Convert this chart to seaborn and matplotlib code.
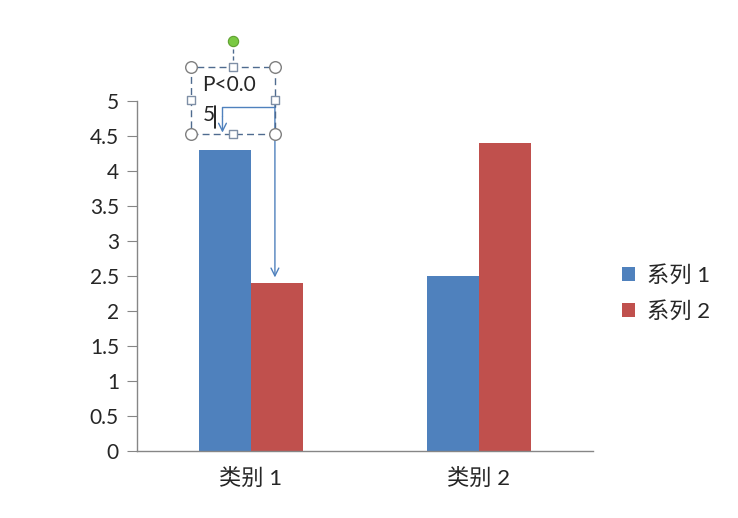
import matplotlib.pyplot as plt
import seaborn as sns
import pandas as pd
from matplotlib.patches import Rectangle

# Data
categories = ['类别 1', '类别 2']
series_names = ['系列 1', '系列 2']
series1 = [4.3, 2.5]
series2 = [2.4, 4.4]
yticks = [0, 0.5, 1, 1.5, 2, 2.5, 3, 3.5, 4, 4.5, 5]
ytick_labels = ['0', '0.5', '1', '1.5', '2', '2.5', '3', '3.5', '4', '4.5', '5']
annot_lines = ['P<0.0', '5']

df = pd.DataFrame({
    'cat': categories * 2,
    'series': [series_names[0]] * 2 + [series_names[1]] * 2,
    'value': series1 + series2,
})

sns.set_style('white')
fonts = ['Lato', 'Noto Sans CJK SC', 'DejaVu Sans']
plt.rcParams['font.family'] = fonts

fig = plt.figure(figsize=(7.38, 5.18), dpi=100)
ax = fig.add_axes([0.1856, 0.1293, 0.6179, 0.6757])

sns.barplot(data=df, x='cat', y='value', hue='series', ax=ax,
            palette=['#4F81BD', '#C0504D'], width=0.46, saturation=1,
            edgecolor='none', linewidth=0, legend=True)

ax.set_xlim(-0.5, 1.5)
ax.set_ylim(0, 5)
ax.set_yticks(yticks)
ax.set_yticklabels(ytick_labels)
ax.set_xlabel('')
ax.set_ylabel('')
gray = '#868686'
for s in ['top', 'right']:
    ax.spines[s].set_visible(False)
for s in ['left', 'bottom']:
    ax.spines[s].set_color(gray)
    ax.spines[s].set_linewidth(1)
ax.set_xticks([-0.5, 0.5, 1.5], minor=True)
ax.tick_params(axis='x', which='major', length=0, pad=12, labelsize=16)
ax.tick_params(axis='x', which='minor', length=6, color=gray, direction='out')
ax.tick_params(axis='y', length=7, color=gray, direction='out', left=True,
               labelsize=15, pad=6)

# legend
h, l = ax.get_legend_handles_labels()
ax.legend(h, l, loc='center left', bbox_to_anchor=(1.02, 0.45), frameon=False,
          fontsize=16, handlelength=0.6, handleheight=0.6, handletextpad=0.5,
          labelspacing=0.7)

# annotation text box with selection handles
xl, xr = -0.263, 0.105
yb, yt = 4.529, 5.486
xm = (xl + xr) / 2
ym = (yb + yt) / 2
hc = '#4F6B8F'
box = Rectangle((xl, yb), xr - xl, yt - yb, fill=False, ls=(0, (5, 3)),
                ec=hc, lw=1, clip_on=False, zorder=5)
ax.add_patch(box)
ax.text(xl + 0.05, 5.229, annot_lines[0], fontsize=15, va='center', ha='left',
        clip_on=False, zorder=6)
ax.text(xl + 0.05, 4.80, annot_lines[1], fontsize=15, va='center', ha='left',
        clip_on=False, zorder=6)
ax.plot([-0.157, -0.157], [4.62, 4.93], color='black', lw=1.2,
        clip_on=False, zorder=6)

# connectors
ax.annotate('', xy=(0.105, 2.48), xytext=(0.105, ym + 0.02),
            arrowprops=dict(arrowstyle='->', color='#4F81BD', lw=1,
                            mutation_scale=14, shrinkA=0, shrinkB=0),
            annotation_clip=False, zorder=4)
ax.plot([0.105, -0.125, -0.125], [4.914, 4.914, yb + 0.25],
        color='#4F81BD', lw=1, clip_on=False, zorder=4)
ax.annotate('', xy=(-0.125, yb + 0.02), xytext=(-0.125, yb + 0.25),
            arrowprops=dict(arrowstyle='->', color='#4F81BD', lw=1,
                            mutation_scale=14, shrinkA=0, shrinkB=0),
            annotation_clip=False, zorder=4)

# rotation handle
ax.plot([xm, xm], [yt, yt + 0.33], color=hc, lw=1, ls=(0, (3, 2)),
        clip_on=False, zorder=5)
ax.scatter([xm], [yt + 0.37], s=55, color='#7AC943', edgecolor='#5FA030',
           lw=0.8, clip_on=False, zorder=7)

# corner circles and side squares
ax.scatter([xl, xr, xl, xr], [yb, yb, yt, yt], s=70, facecolor='white',
           edgecolor='#7F7F7F', lw=1, clip_on=False, zorder=7)
ax.scatter([xm, xm, xl, xr], [yb, yt, ym, ym], s=32, marker='s',
           facecolor='white', edgecolor='#7F8FA6', lw=1, clip_on=False,
           zorder=7)

plt.savefig('out.png', dpi=100)
